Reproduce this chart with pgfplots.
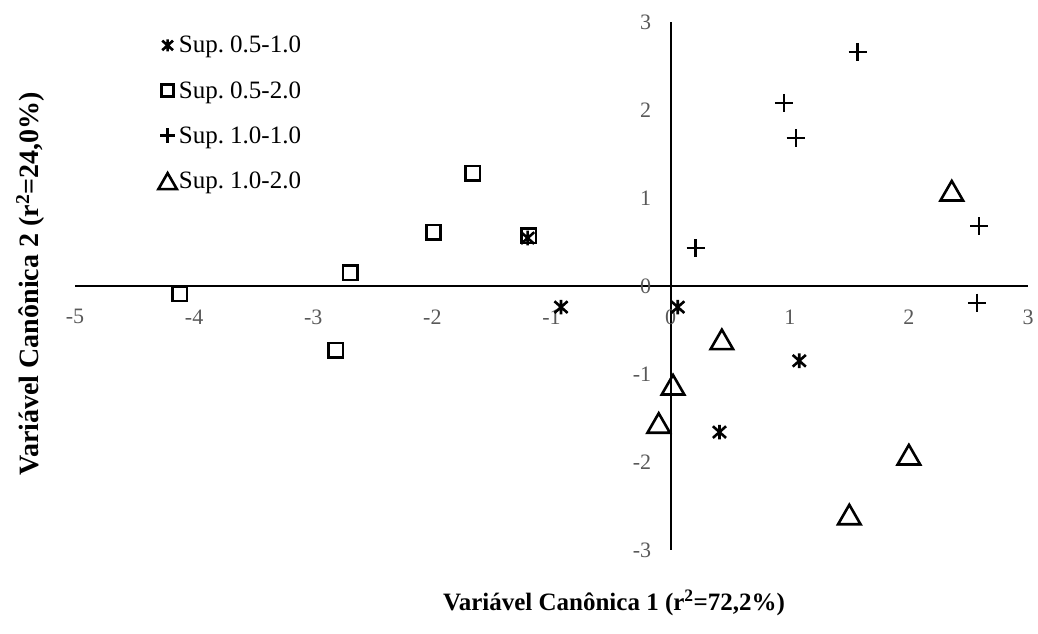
\documentclass[border=0pt]{standalone}
\usepackage{pgfplots}
\pgfplotsset{compat=1.18}
\usepackage{fontspec}
\setmainfont{Liberation Serif}
\frenchspacing
\definecolor{ticklbl}{HTML}{595959}
\pgfdeclareplotmark{xstar}{%
  \pgfpathmoveto{\pgfqpoint{0pt}{\pgfplotmarksize}}%
  \pgfpathlineto{\pgfqpoint{0pt}{-\pgfplotmarksize}}%
  \pgfpathmoveto{\pgfqpoint{-0.9\pgfplotmarksize}{0.8\pgfplotmarksize}}%
  \pgfpathlineto{\pgfqpoint{0.9\pgfplotmarksize}{-0.8\pgfplotmarksize}}%
  \pgfpathmoveto{\pgfqpoint{-0.9\pgfplotmarksize}{-0.8\pgfplotmarksize}}%
  \pgfpathlineto{\pgfqpoint{0.9\pgfplotmarksize}{0.8\pgfplotmarksize}}%
  \pgfusepathqstroke}
\begin{document}
\begin{tikzpicture}[x=1pt,y=1pt]
\useasboundingbox (0,0) rectangle (1038,634);
\begin{axis}[
  at={(75pt,84pt)}, anchor=south west,
  scale only axis, width=953pt, height=528pt,
  xmin=-5, xmax=3, ymin=-3, ymax=3,
  clip=false,
  axis lines=middle,
  axis line style={-, line width=2pt, black},
  hide obscured x ticks=false, hide obscured y ticks=false,
  xtick={-5,-4,-3,-2,-1,0,1,2,3}, ytick={-3,-2,-1,0,1,2,3},
  major tick length=0pt,
  tick style={draw=none},
  ticklabel style={font=\fontsize{22}{26}\selectfont, text=ticklbl},
  /pgf/number format/assume math mode=true,
  xticklabel style={anchor=north, yshift=-20pt},
  yticklabel style={anchor=east, xshift=-16pt},
  xlabel={\textbf{Variável Canônica 1 (r\textsuperscript{2}=72,2\%)}},
  ylabel={\textbf{Variável Canônica 2 (r\textsuperscript{2}=24,0\%)}},
  xlabel style={at={(axis description cs:0.5656,-0.1004)}, anchor=center, font=\fontsize{25}{30}\selectfont},
  ylabel style={at={(axis description cs:-0.047,0.504)}, anchor=center, rotate=90, font=\fontsize{28}{32}\selectfont},
  legend style={at={(axis description cs:0.0873,0.977)}, anchor=north west, draw=none, fill=none,
    font=\fontsize{25}{30}\selectfont, row sep=23pt, inner sep=0pt,
    /tikz/every even column/.append style={column sep=1pt}},
  legend cell align=left,
  legend image code/.code={\draw[#1, every mark/.append style={scale=0.82}] plot coordinates {(0pt,0pt)};},
]
\addplot[only marks, mark=xstar, mark size=7.3pt, mark options={line width=2.6pt, black}] coordinates {
(-1.20,0.545) (-0.92,-0.24) (0.06,-0.24) (1.08,-0.85) (0.41,-1.66)};
\addlegendentry{Sup. 0.5-1.0}
\addplot[only marks, mark=square, mark size=7.2pt, mark options={line width=2.6pt, black}] coordinates {
(-4.12,-0.09) (-2.69,0.15) (-2.81,-0.73) (-1.99,0.61) (-1.66,1.28) (-1.19,0.57)};
\addlegendentry{Sup. 0.5-2.0}
\addplot[only marks, mark=+, mark size=9pt, mark options={line width=2.4pt, black}] coordinates {
(0.21,0.43) (0.95,2.08) (1.05,1.68) (1.57,2.66) (2.59,0.68) (2.57,-0.19)};
\addlegendentry{Sup. 1.0-1.0}
\addplot[only marks, mark=triangle, mark size=13pt, mark options={line width=2.6pt, black, yshift=-3pt}] coordinates {
(2.36,1.08) (0.43,-0.61) (0.02,-1.125) (-0.10,-1.56) (2.00,-1.92) (1.50,-2.60)};
\addlegendentry{Sup. 1.0-2.0}
\end{axis}
\end{tikzpicture}
\end{document}
